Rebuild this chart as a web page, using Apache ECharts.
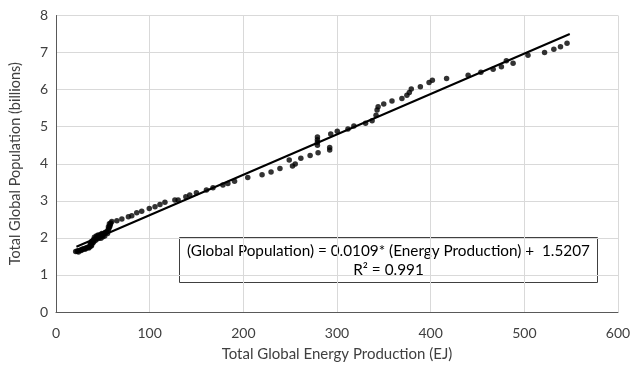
<!DOCTYPE html>
<html>
<head>
<meta charset="utf-8">
<script src="https://cdn.jsdelivr.net/npm/echarts@6/dist/echarts.min.js"></script>
<style>
html,body{margin:0;padding:0;background:#fff;}
#c{width:640px;height:371px;}
</style>
</head>
<body>
<div id="c"></div>
<script>
// Total global energy production (EJ)
const energy = [
  21, 22.5, 23.5, 25, 26.5, 28, 29, 30.5, 32, 33, 34.5, 36, 37.5, 38, 36.5, 37, 39, 40, 38.5, 40.5,
  42, 44, 45.5, 47, 48.5, 50, 47, 44, 45, 47, 49, 51, 52.5, 54, 55.5, 56, 57, 57.5, 58, 58.5, 57, 56,
  38, 40, 42, 44, 46, 48, 50, 52, 41, 43, 45, 49, 53, 55, 24, 27, 31, 35,
  59.6, 65, 70.3, 77.3, 80.9, 86.2, 91.5, 99.6, 105.7, 111, 116.3, 126.9, 130.4, 138.6, 142.8, 149.9,
  160.6, 167.6, 178.2, 183.5, 190.6, 204.7, 220, 229.6, 239.1, 249, 252.5, 255.4, 261.4, 271.3, 279.8,
  279.1, 279.1, 279.1, 279.1, 292.2, 292.2, 293.3, 300.3, 311.7, 318, 330.5, 337.5, 341.7, 342.8, 343.9,
  349.9, 358.7, 369.3, 374.6, 377.2, 379.3, 389, 398.3, 401.8, 417, 440, 453.6, 466.7, 475.5, 480.8,
  488, 503.9, 521.6, 531.5, 538.6, 545.6
];
// Total global population (billions)
const population = [
  1.63, 1.64, 1.65, 1.66, 1.67, 1.69, 1.70, 1.71, 1.72, 1.74, 1.75, 1.76, 1.78, 1.80, 1.82, 1.84, 1.86, 1.88, 1.90, 1.94,
  1.98, 2.00, 2.02, 2.04, 2.06, 2.08, 2.07, 2.03, 2.05, 2.08, 2.10, 2.12, 2.14, 2.16, 2.20, 2.24, 2.28, 2.32, 2.36, 2.40, 2.38, 2.30,
  1.90, 1.95, 1.93, 1.97, 2.00, 1.99, 2.03, 2.05, 2.02, 2.05, 2.08, 2.12, 2.15, 2.12, 1.62, 1.66, 1.69, 1.73,
  2.44, 2.46, 2.51, 2.57, 2.60, 2.68, 2.72, 2.79, 2.84, 2.90, 2.96, 3.02, 3.02, 3.11, 3.16, 3.22,
  3.29, 3.35, 3.43, 3.47, 3.53, 3.63, 3.70, 3.78, 3.87, 4.10, 3.94, 3.99, 4.15, 4.22, 4.30,
  4.50, 4.58, 4.65, 4.72, 4.44, 4.37, 4.80, 4.88, 4.94, 5.02, 5.09, 5.16, 5.31, 5.45, 5.54,
  5.61, 5.69, 5.76, 5.85, 5.92, 6.02, 6.08, 6.19, 6.25, 6.30, 6.39, 6.47, 6.55, 6.62, 6.78,
  6.71, 6.93, 7.00, 7.09, 7.16, 7.25
];
// Linear trendline end points
const trendEnergy = [21.8, 548.5];
const trendPopulation = [1.76, 7.50];

const xTicks = { min: 0, max: 600, interval: 100 };
const yTicks = { min: 0, max: 8, interval: 1 };

const eqLine1 = '(Global Population) = 0.0109* (Energy Production) +  1.5207';
const eqLine2 = 'R² = 0.991';
const xName = 'Total Global Energy Production (EJ)';
const yName = 'Total Global Population (billions)';

const FONT = 'Lato, "Open Sans", sans-serif';
const TXT = '#404040';

const chart = echarts.init(document.getElementById('c'), null, { renderer: 'canvas' });
chart.setOption({
  animation: false,
  backgroundColor: '#ffffff',
  textStyle: { fontFamily: FONT },
  grid: { left: 55.5, right: 22, top: 15.5, bottom: 59, containLabel: false },
  xAxis: {
    type: 'value', min: xTicks.min, max: xTicks.max, interval: xTicks.interval,
    name: xName, nameLocation: 'middle', nameGap: 35,
    nameTextStyle: { color: TXT, fontSize: 15, fontFamily: FONT },
    axisLine: { show: true, onZero: false, lineStyle: { color: '#595959', width: 1 } },
    axisTick: { show: false },
    axisLabel: { color: TXT, fontSize: 14, margin: 14, fontFamily: FONT },
    splitLine: { show: true, lineStyle: { color: '#d9d9d9', width: 1 } }
  },
  yAxis: {
    type: 'value', min: yTicks.min, max: yTicks.max, interval: yTicks.interval,
    name: yName, nameLocation: 'middle', nameGap: 33, nameRotate: 90,
    nameTextStyle: { color: TXT, fontSize: 14.5, fontFamily: FONT },
    axisLine: { show: true, onZero: false, lineStyle: { color: '#595959', width: 1 } },
    axisTick: { show: false },
    axisLabel: { color: TXT, fontSize: 14, margin: 8, fontFamily: FONT },
    splitLine: { show: true, lineStyle: { color: '#d9d9d9', width: 1 } }
  },
  series: [
    {
      type: 'line',
      data: trendEnergy.map((e, i) => [e, trendPopulation[i]]),
      showSymbol: false,
      lineStyle: { color: '#000000', width: 2 },
      z: 2
    },
    {
      type: 'scatter',
      data: energy.map((e, i) => [e, population[i]]),
      symbol: 'circle',
      symbolSize: 5.5,
      itemStyle: { color: '#000000' },
      z: 3
    }
  ],
  graphic: [
    {
      type: 'group',
      left: 179, top: 237,
      children: [
        { type: 'rect', shape: { x: 0, y: 0, width: 418, height: 45 },
          style: { fill: '#ffffff', stroke: '#404040', lineWidth: 1 } },
        { type: 'text', style: { text: eqLine1, x: 209, y: 13.5, align: 'center', verticalAlign: 'middle',
          fill: '#000000', font: '15.3px ' + FONT } },
        { type: 'text', style: { text: eqLine2, x: 209, y: 33, align: 'center', verticalAlign: 'middle',
          fill: '#000000', font: '15.3px ' + FONT } }
      ]
    }
  ]
});
</script>
</body>
</html>
